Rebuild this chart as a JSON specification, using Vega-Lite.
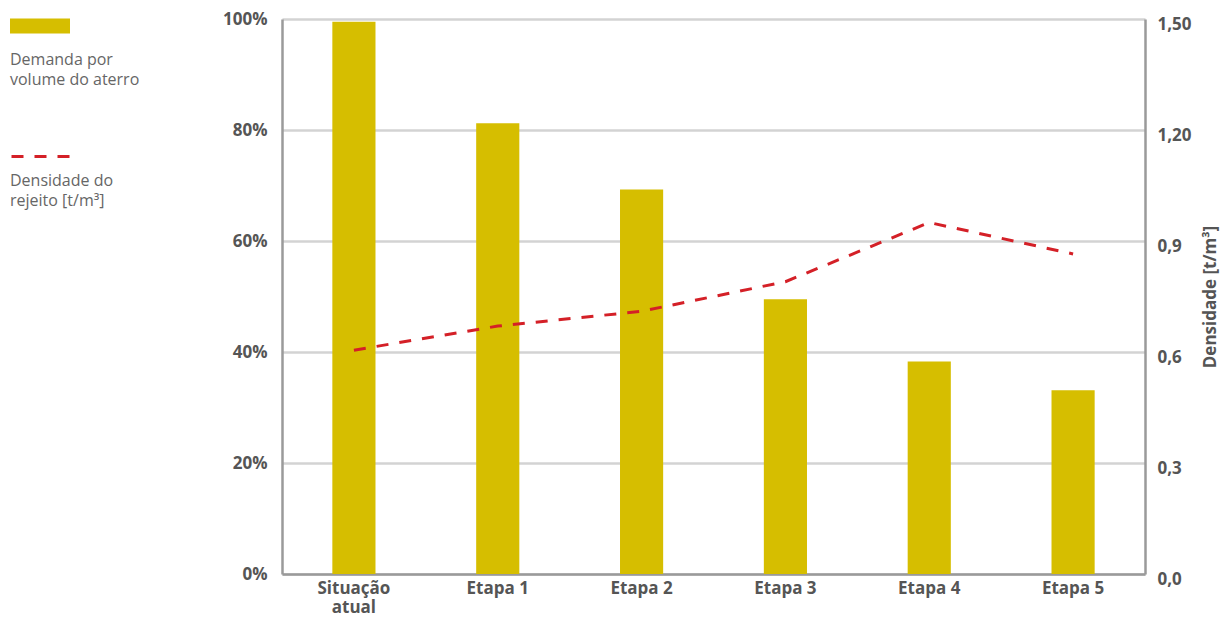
{
  "$schema": "https://vega.github.io/schema/vega-lite/v6.json",
  "width": 863,
  "height": 555,
  "autosize": {"type": "none"},
  "padding": {"left": 282, "top": 19, "right": 75, "bottom": 44},
  "background": "white",
  "config": {
    "view": {"stroke": null},
    "font": "Open Sans",
    "axis": {"labelFont": "Open Sans", "titleFont": "Open Sans"},
    "legend": {"labelFont": "Open Sans", "titleFont": "Open Sans"}
  },
  "data": {
    "values": [
      {"etapa": "Situação atual", "demanda": 0.995, "densidade": 0.605},
      {"etapa": "Etapa 1", "demanda": 0.812, "densidade": 0.67},
      {"etapa": "Etapa 2", "demanda": 0.693, "densidade": 0.71},
      {"etapa": "Etapa 3", "demanda": 0.495, "densidade": 0.79},
      {"etapa": "Etapa 4", "demanda": 0.383, "densidade": 0.95},
      {"etapa": "Etapa 5", "demanda": 0.331, "densidade": 0.865}
    ]
  },
  "encoding": {
    "x": {
      "field": "etapa",
      "type": "nominal",
      "sort": null,
      "scale": {"paddingInner": 0.7, "paddingOuter": 0.35},
      "axis": {
        "title": null,
        "labelAngle": 0,
        "labelFontSize": 17,
        "labelFontWeight": "bold",
        "labelColor": "#555555",
        "labelPadding": 6,
        "labelLineHeight": 19,
        "labelExpr": "datum.label == 'Situação atual' ? ['Situação', 'atual'] : datum.label",
        "ticks": false,
        "domainColor": "#9a9a9a",
        "domainWidth": 2.5,
        "grid": false
      }
    }
  },
  "layer": [
    {
      "mark": {"type": "bar"},
      "encoding": {
        "y": {
          "field": "demanda",
          "type": "quantitative",
          "scale": {"domain": [0, 1]},
          "axis": {
            "title": null,
            "values": [0, 0.2, 0.4, 0.6, 0.8, 1],
            "format": ".0%",
            "labelFontSize": 17,
            "labelFontWeight": "bold",
            "labelColor": "#555555",
            "labelPadding": 15,
            "ticks": false,
            "domainColor": "#9a9a9a",
            "domainWidth": 2.5,
            "grid": true,
            "gridColor": "#d3d3d3",
            "gridWidth": 2.5
          }
        },
        "color": {
          "datum": "Demanda por volume do aterro",
          "type": "nominal",
          "scale": {"range": ["#d6be00"]},
          "legend": {
            "orient": "none",
            "legendX": -272,
            "legendY": -23,
            "padding": 0,
            "symbolType": "M-1,-0.25H1V0.25H-1Z",
            "symbolSize": 3600,
            "symbolStrokeWidth": 0,
            "labelExpr": "''",
            "labelFontSize": 1,
            "title": ["Demanda por", "volume do aterro"],
            "titleOrient": "bottom",
            "titleFontSize": 16,
            "titleFontWeight": "normal",
            "titleColor": "#666666",
            "titleLineHeight": 20,
            "titlePadding": 18
          }
        }
      }
    },
    {
      "mark": {"type": "line", "stroke": "#d42027", "strokeWidth": 3},
      "encoding": {
        "y": {
          "field": "densidade",
          "type": "quantitative",
          "scale": {"domain": [0, 1.5]},
          "axis": {
            "orient": "right",
            "title": "Densidade [t/m³]",
            "titleAngle": -90,
            "titleFontSize": 17,
            "titleFontWeight": "bold",
            "titleColor": "#555555",
            "titlePadding": 28,
            "values": [0, 0.3, 0.6, 0.9, 1.2, 1.5],
            "labelExpr": "datum.value >= 1.2 ? replace(format(datum.value, '.2f'), '.', ',') : replace(format(datum.value, '.1f'), '.', ',')",
            "labelFontSize": 17,
            "labelFontWeight": "bold",
            "labelColor": "#555555",
            "labelPadding": 12,
            "labelOffset": 5,
            "ticks": false,
            "domainColor": "#9a9a9a",
            "domainWidth": 2.5,
            "grid": false
          }
        },
        "strokeDash": {
          "datum": "Densidade do rejeito",
          "type": "nominal",
          "scale": {"range": [[12, 11]]},
          "legend": {
            "orient": "none",
            "legendX": -272,
            "legendY": 106,
            "padding": 0,
            "symbolType": "stroke",
            "symbolSize": 3600,
            "symbolStrokeColor": "#d42027",
            "symbolStrokeWidth": 3,
            "labelExpr": "''",
            "labelFontSize": 1,
            "title": ["Densidade do", "rejeito [t/m³]"],
            "titleOrient": "bottom",
            "titleFontSize": 16,
            "titleFontWeight": "normal",
            "titleColor": "#666666",
            "titleLineHeight": 20,
            "titlePadding": 10
          }
        }
      }
    }
  ],
  "resolve": {"scale": {"y": "independent"}}
}
